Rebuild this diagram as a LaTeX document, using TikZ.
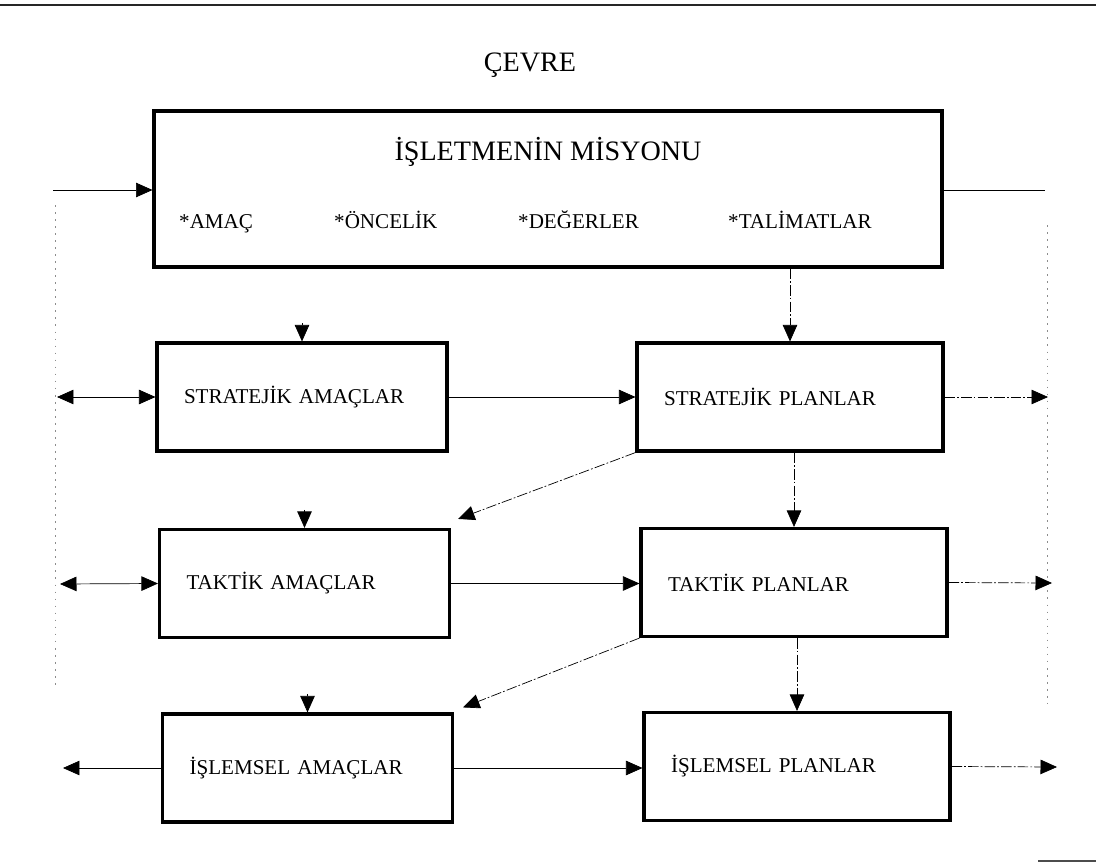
\documentclass[tikz,border=0pt]{standalone}
\usepackage{fontspec}
\setmainfont{Liberation Serif}
\usepackage{tikz}
\usetikzlibrary{arrows.meta}

\begin{document}
\begin{tikzpicture}[x=0.02cm,y=-0.02cm,->,>={Triangle[length=3.3mm,width=2.9mm]},thin,
  amac node/.style={draw,-,line width=1.8pt,minimum height=2.16cm,text width=4.72cm,inner xsep=0.54cm,align=left,font=\fontsize{12}{14}\selectfont},
  plan node/.style={amac node,text width=5.04cm},
  madde/.style={anchor=base west,font=\fontsize{12}{14}\selectfont},
  kesik/.style={dash pattern=on 6pt off 1.2pt on 1pt off 1.2pt},
  soluk/.style={-,black!45,line width=0.4pt,dash pattern=on 1pt off 3pt}]
  \useasboundingbox (0,0) rectangle (1096,865);
  \draw[-,line width=0.8pt,black!85] (0,5) -- (1096,5);
  \draw[-,line width=0.8pt,black!70] (1038,861) -- (1096,861);

  \node[font=\fontsize{16}{18}\selectfont,anchor=base] (cevre) at (530,72) {ÇEVRE};
  \node[draw,line width=1.8pt,minimum width=15.76cm,minimum height=3.12cm] (misyon) at (548,189) {};
  \node[font=\fontsize{16}{18}\selectfont,anchor=base] (baslik) at (548,161) {İŞLETMENİN MİSYONU};
  \node[madde] (amac) at (173,228) {*AMAÇ};
  \node[madde] (oncelik) at (328,228) {*ÖNCELİK};
  \node[madde] (degerler) at (512,228) {*DEĞERLER};
  \node[madde] (talimatlar) at (722,228) {*TALİMATLAR};

  \node[amac node] (sa) at (302,397) {STRATEJİK AMAÇLAR};
  \node[plan node] (sp) at (790,397) {STRATEJİK PLANLAR};
  \node[amac node] (ta) at (304.5,583.5) {TAKTİK AMAÇLAR};
  \node[plan node] (tp) at (794,582.5) {TAKTİK PLANLAR};
  \node[amac node] (isa) at (307.5,768) {İŞLEMSEL AMAÇLAR};
  \node[plan node] (isp) at (797,766.5) {İŞLEMSEL PLANLAR};

  \coordinate (misyonsol) at (53,190);
  \coordinate (misyonsag) at (1045,190);
  \coordinate (solkenar1) at (57,397);
  \coordinate (solkenar2) at (60,584);
  \coordinate (solkenar3) at (63,768);
  \coordinate (sagkenar1) at (1048,397);
  \coordinate (sagkenar2) at (1052,583);
  \coordinate (sagkenar3) at (1057,767);

  \draw[soluk] (55,205) -- (55,688);
  \draw[soluk] (1047,225) -- (1047,703);

  \path
  (misyonsol) edge (misyonsol -| misyon.west)
  (misyonsag -| misyon.east) edge[-] (misyonsag)
  (solkenar1) edge[<->] (sa.west)
  (solkenar2) edge[<->] (ta.west)
  (isa.west) edge (solkenar3)
  ([shift={(0,-18)}]sa.north) edge (sa.north)
  ([shift={(0,-18)}]ta.north) edge (ta.north)
  ([shift={(0,-18)}]isa.north) edge (isa.north)
  (sa.east) edge (sa.east -| sp.west)
  (ta.east) edge (ta.east -| tp.west)
  (isa.east) edge (isa.east -| isp.west);

  \path[kesik]
  (sp.north |- misyon.south) edge (sp.north)
  (tp.north |- sp.south) edge (tp.north)
  (isp.north |- tp.south) edge (isp.north)
  (sp.south west) edge ([shift={(7,-9)}]ta.north east)
  (tp.south west) edge ([shift={(9,-5)}]isa.north east)
  (sp.east) edge (sagkenar1)
  (tp.east) edge (sagkenar2)
  (isp.east) edge (sagkenar3);
\end{tikzpicture}
\end{document}
